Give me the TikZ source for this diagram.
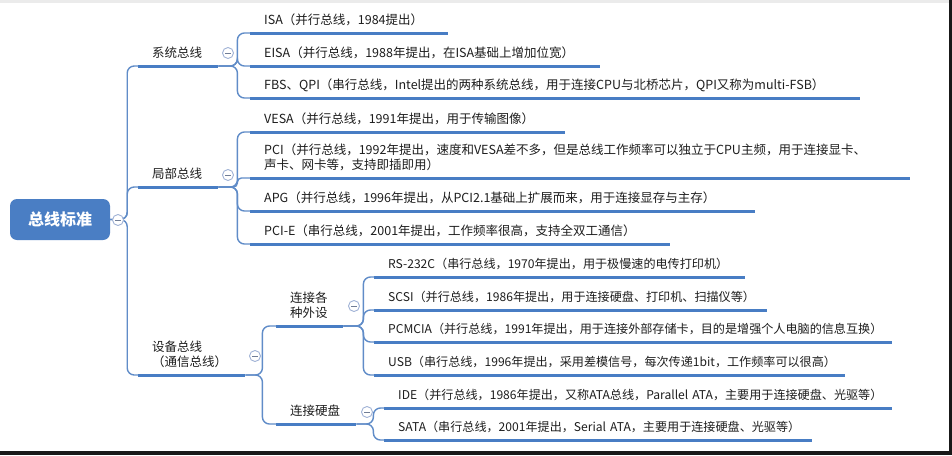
\documentclass[tikz,border=0pt]{standalone}
\usepackage{fontspec}
\setmainfont{Noto Sans CJK SC}
\definecolor{lineblue}{RGB}{72,125,196}
\definecolor{connblue}{RGB}{96,140,200}
\definecolor{rootblue}{RGB}{74,126,196}
\definecolor{togc}{RGB}{160,178,214}
\definecolor{txt}{RGB}{30,30,30}
\begin{document}
\begin{tikzpicture}[x=1pt,y=-1pt,
  topic/.style={anchor=south west, inner xsep=14pt, inner ysep=0pt, text width=#1,
    align=left, text depth=8pt, text height=10pt,
    font=\fontsize{12.5}{15.5}\selectfont, text=txt},
  smalltxt/.style={font=\fontsize{12.1}{15}\selectfont},
  twoline/.style={text depth=23.5pt},
  uline/.style={draw=lineblue, line width=3pt},
  conn/.style={draw=connblue, line width=1.4pt, rounded corners=7pt},
  rootbox/.style={fill=rootblue, rounded corners=7pt, minimum width=100pt,
    minimum height=41pt, text=white, font=\fontsize{16}{16}\bfseries\selectfont},
  tog/.style={circle, draw=togc, fill=white, line width=0.9pt, minimum size=11pt,
    inner sep=0pt, path picture={\draw[togc!70!black, line width=0.9pt]
      ([xshift=-2.8pt]path picture bounding box.center) --
      ([xshift=2.8pt]path picture bounding box.center);}}]
\useasboundingbox (0,0) rectangle (952,455);
\fill[white] (0,0) rectangle (952,455);
\fill[black!8] (0,0) rectangle (952,2.5);
\fill[black!90] (949,0) rectangle (952,455);
\fill[black!90] (0,451) rectangle (952,455);

% root
\node[rootbox] (root) at (60,219.5) {总线标准};

% level 1
\node[topic=52] (sys) at (138,66) {\mbox{系统总线}};
\node[topic=52] (loc) at (138,187) {\mbox{局部总线}};
\node[topic=79,twoline] (dev) at (138,375) {\mbox{设备总线}\\\mbox{（通信总线）}};

% system bus children
\node[topic=170] (isa) at (250,33) {\mbox{ISA（并行总线，1984提出）}};
\node[topic=322] (eisa) at (250,66) {\mbox{EISA（并行总线，1988年提出，在ISA基础上增加位宽）}};
\node[topic=582] (fbs) at (250,98) {\mbox{FBS、QPI（串行总线，Intel提出的两种系统总线，用于连接CPU与北桥芯片，QPI又称为multi-FSB）}};

% local bus children
\node[topic=287] (vesa) at (250,132) {\mbox{VESA（并行总线，1991年提出，用于传输图像）}};
\node[topic=632,twoline] (pci) at (250,178) {\mbox{PCI（并行总线，1992年提出，速度和VESA差不多，但是总线工作频率可以独立于CPU主频，用于连接显卡、}\\\mbox{声卡、网卡等，支持即插即用）}};
\node[topic=477] (apg) at (250,211) {\mbox{APG（并行总线，1996年提出，从PCI2.1基础上扩展而来，用于连接显存与主存）}};
\node[topic=392] (pcie) at (250,244) {\mbox{PCI-E（串行总线，2001年提出，工作频率很高，支持全双工通信）}};

% device bus children
\node[topic=39,twoline] (per) at (276,326) {\mbox{连接各}\\\mbox{种外设}};
\node[topic=52] (hdd) at (276,424) {\mbox{连接硬盘}};

\node[topic=343,smalltxt] (rs) at (374,277) {\mbox{RS-232C（串行总线，1970年提出，用于极慢速的电传打印机）}};
\node[topic=365,smalltxt] (scsi) at (374,310) {\mbox{SCSI（并行总线，1986年提出，用于连接硬盘、打印机、扫描仪等）}};
\node[topic=490,smalltxt] (pcm) at (374,342) {\mbox{PCMCIA（并行总线，1991年提出，用于连接外部存储卡，目的是增强个人电脑的信息互换）}};
\node[topic=443,smalltxt] (usb) at (374,375) {\mbox{USB（串行总线，1996年提出，采用差模信号，每次传递1bit，工作频率可以很高）}};

\node[topic=480,smalltxt] (ide) at (384,408) {\mbox{IDE（并行总线，1986年提出，又称ATA总线，Parallel ATA，主要用于连接硬盘、光驱等）}};
\node[topic=400,smalltxt] (sata) at (384,440) {\mbox{SATA（串行总线，2001年提出，Serial ATA，主要用于连接硬盘、光驱等）}};

% underlines
\foreach \n in {sys,loc,dev,isa,eisa,fbs,vesa,pci,apg,pcie,per,hdd,rs,scsi,pcm,usb,ide,sata}
  \draw[uline] (\n.south west) -- (\n.south east);

% connectors
\foreach \c in {sys,loc,dev}
  \draw[conn] (root.east) -- ++(17,0) |- (\c.south west);
\foreach \c in {isa,eisa,fbs}
  \draw[conn] (sys.south east) -- ++(19,0) |- (\c.south west);
\foreach \c in {vesa,apg,pcie}
  \draw[conn] (loc.south east) -- ++(19,0) |- (\c.south west);
\draw[conn, rounded corners=4pt] (loc.south east) -- ++(19,0) |- (pci.south west);
\foreach \c in {per,hdd}
  \draw[conn] (dev.south east) -- ++(17,0) |- (\c.south west);
\foreach \c in {rs,scsi,pcm,usb}
  \draw[conn] (per.south east) -- ++(20,0) |- (\c.south west);
\foreach \c in {ide,sata}
  \draw[conn] (hdd.south east) -- ++(17,0) |- (\c.south west);

% toggles
\node[tog] (t0) at (118,220) {};
\node[tog] (t1) at (228,53) {};
\node[tog] (t2) at (228,175) {};
\node[tog] (t3) at (255,356) {};
\node[tog] (t4) at (354,306) {};
\node[tog] (t5) at (367,412) {};
\end{tikzpicture}
\end{document}
